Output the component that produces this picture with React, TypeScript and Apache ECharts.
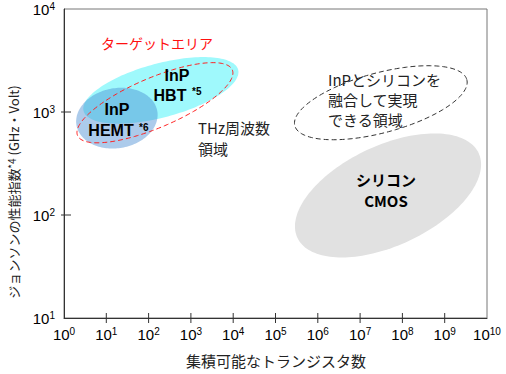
import React, { useEffect, useRef } from "react";
import * as echarts from "echarts";

// axis extents (values)
const xMin = 1;
const xMax = 1e10;
const yMin = 10;
const yMax = 1e4;

// interior tick exponents
const xTickExponents = [1, 2, 3, 4, 5, 6, 7, 8, 9];
const yTickExponents = [2, 3];

// regions: centre in decades [log10 transistors, log10 JFoM], conjugate semi-axes in decades
const regionNames = ["cmos", "hbt", "hemt", "target", "fusion"];
const regionCenters = [
  [7.66, 2.19],
  [2.29, 3.21],
  [1.25, 2.94],
  [2.15, 3.09],
  [7.49, 3.09],
];
const regionMajor = [
  [2.142, 0.411],
  [1.827, 0.201],
  [0.955, 0.069],
  [1.829, 0.319],
  [2.033, 0.224],
];
const regionMinor = [
  [0.5, -0.44],
  [0.165, -0.253],
  [0.123, -0.287],
  [0.231, -0.223],
  [0.184, -0.281],
];

const JP = "'Noto Sans CJK JP', sans-serif";
const LAT = "'Liberation Sans', Arial, sans-serif";

const regionStyles: Record<string, any> = {
  cmos: { fill: "#e1e1e1", stroke: "none" },
  hbt: { fill: "#9ff9fc", stroke: "none" },
  hemt: { fill: "rgba(70,140,210,0.45)", stroke: "none" },
  target: { fill: "none", stroke: "#ff2020", lineWidth: 1, lineDash: [5, 3] },
  fusion: { fill: "none", stroke: "#333", lineWidth: 1, lineDash: [5, 3] },
};

export default function App() {
  const ref = useRef<HTMLDivElement>(null);
  useEffect(() => {
    if (!ref.current) return;
    const chart = echarts.init(ref.current, undefined, { renderer: "svg" });

    const labelRich = {
      b: { fontSize: 15, fontFamily: LAT, color: "#000", lineHeight: 16 },
      s: { fontSize: 10, fontFamily: LAT, color: "#000", lineHeight: 10, verticalAlign: "top" },
    };
    const fmt = (v: number) => `{b|10}{s|${Math.round(Math.log10(v))}}`;

    const regionData = regionNames.map((n, i) => [
      Math.pow(10, regionCenters[i][0]),
      Math.pow(10, regionCenters[i][1]),
      i,
    ]);

    const tickData = [
      ...xTickExponents.map((e) => [Math.pow(10, e), yMin, 0]),
      ...yTickExponents.map((e) => [xMin, Math.pow(10, e), 1]),
    ];

    const txt = (x: number, y: number, style: any) => ({ type: "text", x, y, z: 100, style });

    const option: any = {
      animation: false,
      grid: {
        left: 64,
        top: 9,
        right: 19,
        bottom: 56,
        show: true,
        borderColor: "#777",
        borderWidth: 1,
        outerBoundsMode: "none",
      },
      xAxis: {
        type: "log",
        logBase: 10,
        min: xMin,
        max: xMax,
        interval: 1,
        splitNumber: 10,
        axisLine: { show: true, lineStyle: { color: "#333", width: 1 } },
        axisTick: { show: false },
        splitLine: { show: false },
        axisLabel: { margin: 8, interval: 0, hideOverlap: false, formatter: fmt, rich: labelRich },
      },
      yAxis: {
        type: "log",
        logBase: 10,
        min: yMin,
        max: yMax,
        interval: 1,
        splitNumber: 3,
        axisLine: { show: true, lineStyle: { color: "#333", width: 1 } },
        axisTick: { show: false },
        splitLine: { show: false },
        axisLabel: { margin: 9, interval: 0, formatter: fmt, rich: labelRich },
      },
      series: [
        {
          type: "custom",
          clip: false,
          z: 2,
          data: regionData,
          encode: { x: 0, y: 1 },
          renderItem: (params: any, api: any) => {
            const i = api.value(2);
            const c = regionCenters[i];
            const u = regionMajor[i];
            const v = regionMinor[i];
            const pts: number[][] = [];
            const N = 160;
            for (let k = 0; k < N; k++) {
              const t = (2 * Math.PI * k) / N;
              const lx = c[0] + u[0] * Math.cos(t) + v[0] * Math.sin(t);
              const ly = c[1] + u[1] * Math.cos(t) + v[1] * Math.sin(t);
              pts.push(api.coord([Math.pow(10, lx), Math.pow(10, ly)]));
            }
            return {
              type: "polygon",
              shape: { points: pts },
              style: regionStyles[regionNames[i]],
              silent: true,
            };
          },
        },
        {
          type: "custom",
          clip: false,
          z: 3,
          data: tickData,
          encode: { x: 0, y: 1 },
          renderItem: (params: any, api: any) => {
            const p = api.coord([api.value(0), api.value(1)]);
            const kind = api.value(2);
            const shape =
              kind === 0
                ? { x1: p[0], y1: p[1] - 5, x2: p[0], y2: p[1] + 5 }
                : { x1: p[0] - 3, y1: p[1], x2: p[0] + 7, y2: p[1] };
            return {
              type: "line",
              shape,
              style: { stroke: "#333", lineWidth: 1 },
              silent: true,
            };
          },
        },
      ],
      graphic: [
        {
          type: "text",
          x: 13,
          y: 192,
          z: 100,
          rotation: Math.PI / 2,
          style: {
            text: "ジョンソンの性能指数{s|*4} (GHz・Volt)",
            fontSize: 13,
            fontFamily: JP,
            fill: "#222",
            align: "center",
            verticalAlign: "middle",
            rich: { s: { fontSize: 10, fontFamily: JP, fill: "#222", verticalAlign: "top" } },
          },
        },
        txt(276, 360, {
          text: "集積可能なトランジスタ数",
          fontSize: 15,
          fontFamily: JP,
          fill: "#222",
          align: "center",
          verticalAlign: "middle",
        }),
        txt(157, 43, {
          text: "ターゲットエリア",
          fontSize: 14,
          fontFamily: JP,
          fill: "#ff1010",
          align: "center",
          verticalAlign: "middle",
        }),
        txt(177, 75, { text: "InP", fontSize: 16, fontWeight: "bold", fontFamily: LAT, fill: "#000", align: "center", verticalAlign: "middle" }),
        txt(170, 95, { text: "HBT", fontSize: 16, fontWeight: "bold", fontFamily: LAT, fill: "#000", align: "center", verticalAlign: "middle" }),
        txt(192, 91, { text: "*5", fontSize: 10, fontWeight: "bold", fontFamily: LAT, fill: "#000", align: "left", verticalAlign: "middle" }),
        txt(117, 109, { text: "InP", fontSize: 16, fontWeight: "bold", fontFamily: LAT, fill: "#000", align: "center", verticalAlign: "middle" }),
        txt(111, 130, { text: "HEMT", fontSize: 16, fontWeight: "bold", fontFamily: LAT, fill: "#000", align: "center", verticalAlign: "middle" }),
        txt(139, 127, { text: "*6", fontSize: 10, fontWeight: "bold", fontFamily: LAT, fill: "#000", align: "left", verticalAlign: "middle" }),
        txt(198, 117, { text: "THz周波数\n領域", fontSize: 15, lineHeight: 21, fontFamily: JP, fill: "#222", align: "left", verticalAlign: "top" }),
        txt(328, 69, { text: "InPとシリコンを\n融合して実現\nできる領域", fontSize: 15, lineHeight: 20, fontFamily: JP, fill: "#222", align: "left", verticalAlign: "top" }),
        txt(386, 169, { text: "シリコン\nCMOS", fontSize: 15, lineHeight: 21, fontWeight: "bold", fontFamily: JP, fill: "#000", align: "center", verticalAlign: "top" }),
      ],
    };
    chart.setOption(option);
    return () => chart.dispose();
  }, []);
  return <div ref={ref} style={{ position: "absolute", left: 0, top: 0, width: 506, height: 374 }} />;
}
